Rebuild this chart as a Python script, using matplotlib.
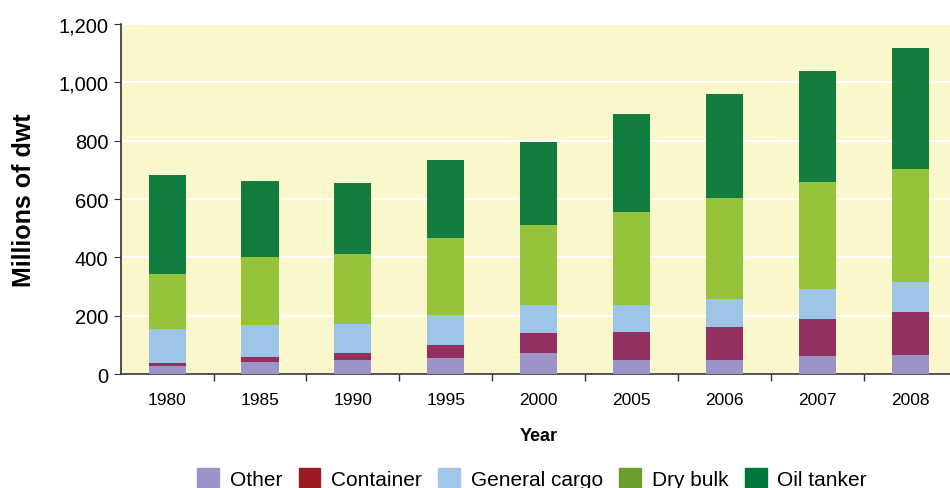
import matplotlib
matplotlib.use("Agg")
import matplotlib.pyplot as plt
from matplotlib.patches import Patch
from matplotlib.ticker import FuncFormatter
import numpy as np

plt.rcParams['font.family'] = ['Liberation Sans', 'DejaVu Sans']

# 数据（百万载重吨）
years = ["1980", "1985", "1990", "1995", "2000", "2005", "2006", "2007", "2008"]
other = [27, 41, 48, 55, 72, 48, 48, 62, 65]
container = [11, 17, 24, 43, 69, 96, 113, 127, 148]
general_cargo = [116, 110, 99, 104, 96, 93, 96, 102, 102]
dry_bulk = [189, 233, 240, 264, 274, 318, 346, 367, 388]
oil_tanker = [339, 261, 244, 268, 284, 336, 357, 381, 415]

series = [other, container, general_cargo, dry_bulk, oil_tanker]
names = ["Other", "Container", "General cargo", "Dry bulk", "Oil tanker"]
bar_colors = ["#9A94C8", "#93305F", "#9EC4E8", "#95C43C", "#127D3E"]
legend_colors = ["#9A94C8", "#9B1B22", "#A2C6EA", "#6C9E2F", "#00763B"]

fig = plt.figure(figsize=(9.5, 4.89), dpi=100)
ax = fig.add_axes([0.127, 0.233, 0.88, 0.716])
ax.set_facecolor("#FAF7CD")

x = np.arange(len(years))
bottom = np.zeros(len(years))
for vals, c in zip(series, bar_colors):
    ax.bar(x, vals, width=0.4, bottom=bottom, color=c, zorder=3)
    bottom += np.array(vals)

ax.set_xlim(-0.5, len(years) - 0.5)
ax.set_ylim(0, 1200)
ax.set_yticks(range(0, 1201, 200))
ax.yaxis.set_major_formatter(FuncFormatter(lambda v, p: f"{int(v):,}"))
ax.grid(axis="y", color="white", linewidth=1.5, zorder=1)

# x轴刻度放在柱子之间，标签放在柱子下方
ax.set_xticks(x)
ax.set_xticklabels(years, fontsize=12.5)
ax.set_xticks(np.arange(0.5, len(years) - 0.5, 1), minor=True)
ax.tick_params(axis="x", which="major", length=0, pad=13)
ax.tick_params(axis="x", which="minor", length=5, width=1, color="#333333")
ax.tick_params(axis="y", labelsize=14.5, length=5, color="#333333", pad=4)

for s in ["top", "right"]:
    ax.spines[s].set_visible(False)
for s in ["left", "bottom"]:
    ax.spines[s].set_color("#333333")
    ax.spines[s].set_linewidth(1.2)

ax.set_ylabel("Millions of dwt", fontsize=18, fontweight="bold", labelpad=16)
ax.set_xlabel("Year", fontsize=13, fontweight="bold", labelpad=14)

handles = [Patch(color=c, label=n) for c, n in zip(legend_colors, names)]
fig.legend(handles=handles, loc="lower center", bbox_to_anchor=(0.56, -0.04),
           ncol=5, frameon=False, fontsize=15, handlelength=1.05, handleheight=1.05,
           handletextpad=0.5, columnspacing=0.8)

plt.savefig("out.png", dpi=100)
